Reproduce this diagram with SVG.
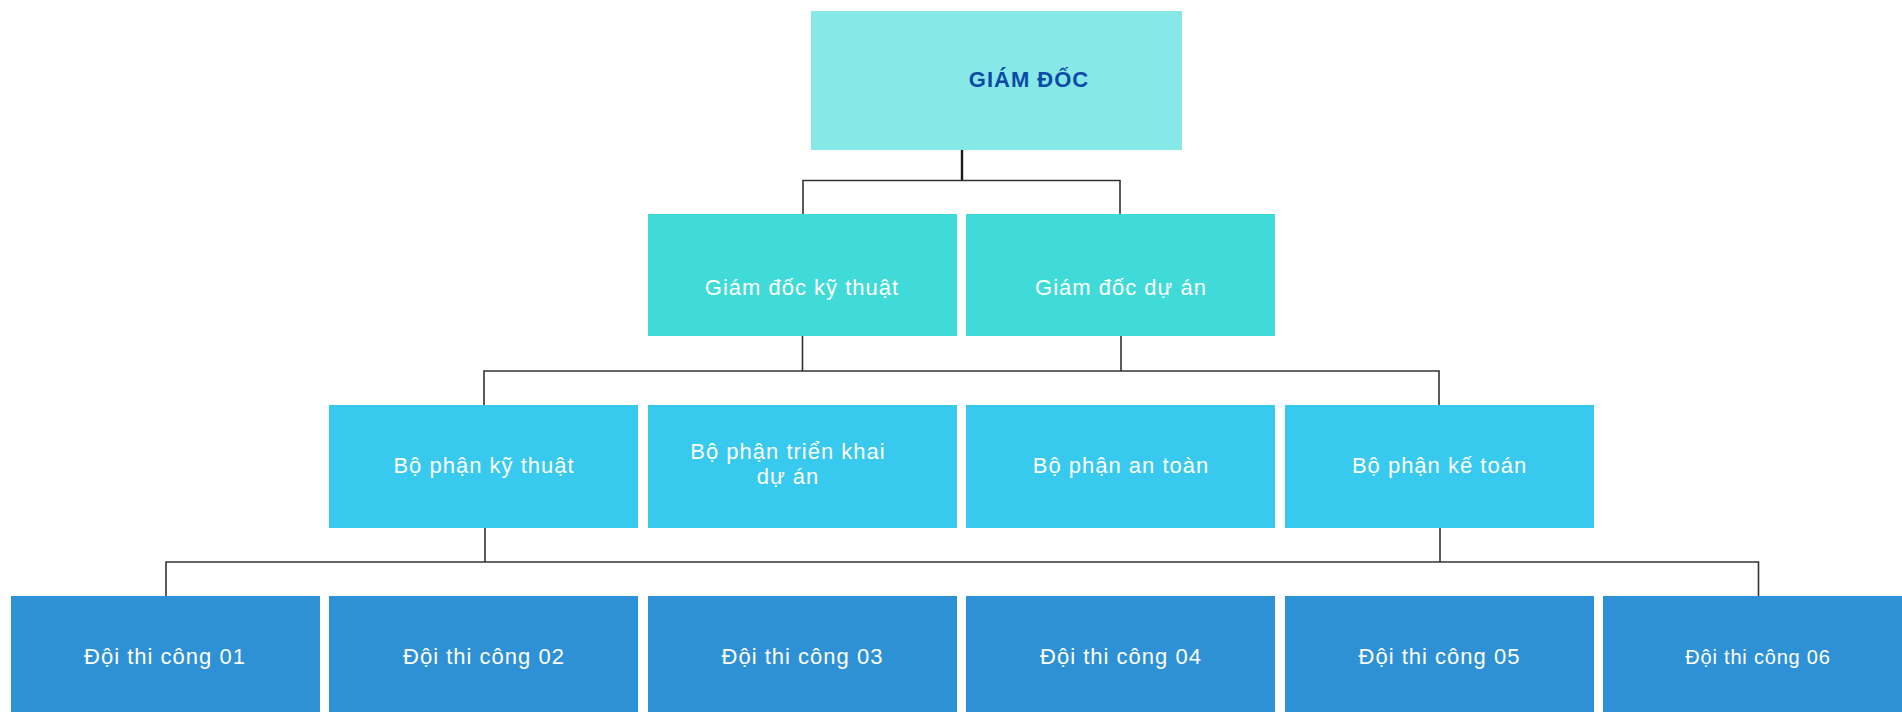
<svg xmlns="http://www.w3.org/2000/svg" width="1902" height="712" viewBox="0 0 1902 712">
<style>
.lbl{font-family:"Liberation Sans",Arial,sans-serif;font-size:22px;letter-spacing:1px;fill:#ffffff;text-anchor:middle}
.top{font-family:"Liberation Sans",Arial,sans-serif;font-size:22px;font-weight:bold;letter-spacing:1px;fill:#0b4aa6;text-anchor:middle}
.l1{fill:#87e9e7}
.l2{fill:#40dbd8}
.l3{fill:#38c9ef}
.l4{fill:#2e91d5}
.c{fill:none;stroke:#333333;stroke-width:1.6}
</style>
<rect width="1902" height="712" fill="#ffffff"/>
<g id="connectors">
<line x1="962" y1="150" x2="962" y2="181" stroke="#1a1a1a" stroke-width="2.4"/>
<path class="c" d="M803 214 V180.5 H1120 V214"/>
<path class="c" d="M802.5 336 V371 M1121 336 V371 M484 405 V371 H1439 V405"/>
<path class="c" d="M485 528 V562 M1440 528 V562 M166 596 V562 H1758.5 V596"/>
</g>
<g id="n-giam-doc"><rect class="l1" x="811" y="11" width="371" height="139"/><text class="top" x="1029" y="87">GIÁM ĐỐC</text></g>
<g id="n-gd-ky-thuat"><rect class="l2" x="648" y="214" width="309" height="122"/><text class="lbl" x="802" y="294.5">Giám đốc kỹ thuật</text></g>
<g id="n-gd-du-an"><rect class="l2" x="966" y="214" width="309" height="122"/><text class="lbl" x="1121" y="294.5">Giám đốc dự án</text></g>
<g id="n-bp-ky-thuat"><rect class="l3" x="329" y="405" width="309" height="123"/><text class="lbl" x="484" y="472.5">Bộ phận kỹ thuật</text></g>
<g id="n-bp-trien-khai"><rect class="l3" x="648" y="405" width="309" height="123"/><text class="lbl" x="788" y="459">Bộ phận triển khai</text><text class="lbl" x="788" y="484">dự án</text></g>
<g id="n-bp-an-toan"><rect class="l3" x="966" y="405" width="309" height="123"/><text class="lbl" x="1121" y="472.5">Bộ phận an toàn</text></g>
<g id="n-bp-ke-toan"><rect class="l3" x="1285" y="405" width="309" height="123"/><text class="lbl" x="1439.5" y="472.5">Bộ phận kế toán</text></g>
<g id="n-doi-01"><rect class="l4" x="11" y="596" width="309" height="120"/><text class="lbl" x="165" y="664">Đội thi công 01</text></g>
<g id="n-doi-02"><rect class="l4" x="329" y="596" width="309" height="120"/><text class="lbl" x="484" y="664">Đội thi công 02</text></g>
<g id="n-doi-03"><rect class="l4" x="648" y="596" width="309" height="120"/><text class="lbl" x="802.5" y="664">Đội thi công 03</text></g>
<g id="n-doi-04"><rect class="l4" x="966" y="596" width="309" height="120"/><text class="lbl" x="1121" y="664">Đội thi công 04</text></g>
<g id="n-doi-05"><rect class="l4" x="1285" y="596" width="309" height="120"/><text class="lbl" x="1439.5" y="664">Đội thi công 05</text></g>
<g id="n-doi-06"><rect class="l4" x="1603" y="596" width="309" height="120"/><text class="lbl" x="1758" y="664" style="font-size:20px;letter-spacing:0.8px">Đội thi công 06</text></g>
</svg>
